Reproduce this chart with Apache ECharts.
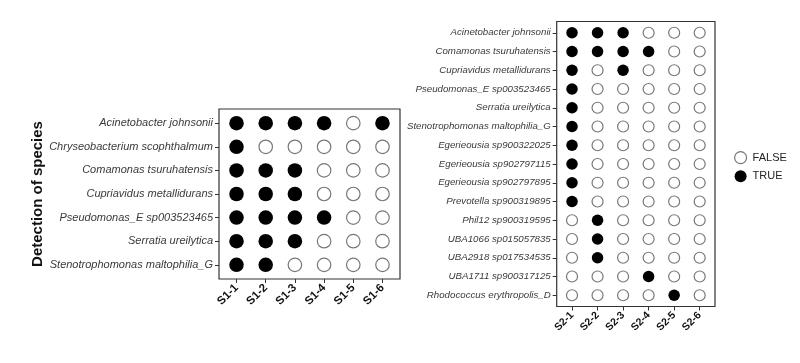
<!DOCTYPE html>
<html><head><meta charset="utf-8">
<script src="https://cdn.jsdelivr.net/npm/echarts@6/dist/echarts.min.js"></script>
<style>html,body{margin:0;padding:0;background:#fff}#c{width:800px;height:363px}</style>
</head><body><div id="c"></div>
<script>
// ---- data ----
const s1Samples = ['S1-1','S1-2','S1-3','S1-4','S1-5','S1-6'];
const s1Species = ['Acinetobacter johnsonii','Chryseobacterium scophthalmum','Comamonas tsuruhatensis',
  'Cupriavidus metallidurans','Pseudomonas_E sp003523465','Serratia ureilytica','Stenotrophomonas maltophilia_G'];
const s1Detected = [
  [1,1,1,1,0,1],
  [1,0,0,0,0,0],
  [1,1,1,0,0,0],
  [1,1,1,0,0,0],
  [1,1,1,1,0,0],
  [1,1,1,0,0,0],
  [1,1,0,0,0,0]
];
const s2Samples = ['S2-1','S2-2','S2-3','S2-4','S2-5','S2-6'];
const s2Species = ['Acinetobacter johnsonii','Comamonas tsuruhatensis','Cupriavidus metallidurans',
  'Pseudomonas_E sp003523465','Serratia ureilytica','Stenotrophomonas maltophilia_G',
  'Egerieousia sp900322025','Egerieousia sp902797115','Egerieousia sp902797895','Prevotella sp900319895',
  'Phil12 sp900319595','UBA1066 sp015057835','UBA2918 sp017534535','UBA1711 sp900317125','Rhodococcus erythropolis_D'];
const s2Detected = [
  [1,1,1,0,0,0],
  [1,1,1,1,0,0],
  [1,0,1,0,0,0],
  [1,0,0,0,0,0],
  [1,0,0,0,0,0],
  [1,0,0,0,0,0],
  [1,0,0,0,0,0],
  [1,0,0,0,0,0],
  [1,0,0,0,0,0],
  [1,0,0,0,0,0],
  [0,1,0,0,0,0],
  [0,1,0,0,0,0],
  [0,1,0,0,0,0],
  [0,0,0,1,0,0],
  [0,0,0,0,1,0]
];
const legendLabels = ['FALSE','TRUE'];

// ---- build ----
function points(samples, species, mat, val){
  const out = [];
  species.forEach((sp,i)=>samples.forEach((sa,j)=>{ if(mat[i][j]===val) out.push([sa,sp]); }));
  return out;
}
const panels = [
  {box:{left:219, top:109, width:181, height:170}, samples:s1Samples, species:s1Species, mat:s1Detected,
   yFont:11, xFont:11.5, sym:14.5, symE:13.5},
  {box:{left:556.7, top:21.5, width:158.3, height:285}, samples:s2Samples, species:s2Species, mat:s2Detected,
   yFont:9.7, xFont:10.5, sym:11.5, symE:11}
];
const grids=[], xAxes=[], yAxes=[], series=[];
panels.forEach((p,k)=>{
  const nx=p.samples.length, ny=p.species.length;
  const dx=p.box.width/(nx+0.2), dy=p.box.height/(ny+0.2);
  // frame grid
  grids.push({left:p.box.left, top:p.box.top, width:p.box.width, height:p.box.height,
    show:true, borderColor:'#333', borderWidth:1.2, backgroundColor:'transparent', containLabel:false});
  xAxes.push({gridIndex:2*k, type:'value', show:false, min:0, max:1});
  yAxes.push({gridIndex:2*k, type:'value', show:false, min:0, max:1});
  // data grid
  grids.push({left:p.box.left+0.1*dx, top:p.box.top+0.1*dy, width:nx*dx, height:ny*dy, containLabel:false});
  xAxes.push({gridIndex:2*k+1, type:'category', data:p.samples, boundaryGap:true, offset:0.1*dy,
    axisLine:{show:false}, axisTick:{show:true, alignWithLabel:true, length:4, lineStyle:{color:'#333'}},
    axisLabel:{rotate:45, fontFamily:'Liberation Sans', fontWeight:'bold', fontSize:p.xFont, color:'#111', margin:7, interval:0},
    splitLine:{show:false}});
  const ya = {gridIndex:2*k+1, type:'category', data:p.species, inverse:true, boundaryGap:true, offset:0.1*dx,
    axisLine:{show:false}, axisTick:{show:true, alignWithLabel:true, length:4, lineStyle:{color:'#333'}},
    axisLabel:{fontFamily:'Liberation Sans', fontStyle:'italic', fontSize:p.yFont, color:'#3a3a3a', margin:6, interval:0},
    splitLine:{show:false}};
  if(k===0){
    Object.assign(ya,{name:'Detection of species', nameLocation:'middle', nameRotate:90, nameGap:173,
      nameTextStyle:{fontFamily:'Liberation Sans', fontWeight:'bold', fontSize:15, color:'#111'}});
  }
  yAxes.push(ya);
  series.push({name:legendLabels[0], type:'scatter', xAxisIndex:2*k+1, yAxisIndex:2*k+1,
    data:points(p.samples,p.species,p.mat,0), symbol:'circle', symbolSize:p.symE,
    itemStyle:{color:'#fff', borderColor:'#777', borderWidth:1.2, opacity:1}, silent:true});
  series.push({name:legendLabels[1], type:'scatter', xAxisIndex:2*k+1, yAxisIndex:2*k+1,
    data:points(p.samples,p.species,p.mat,1), symbol:'circle', symbolSize:p.sym,
    itemStyle:{color:'#000', opacity:1}, silent:true});
});

const chart = echarts.init(document.getElementById('c'), null, {renderer:'canvas'});
chart.setOption({
  animation:false,
  backgroundColor:'#fff',
  grid:grids, xAxis:xAxes, yAxis:yAxes, series:series,
  legend:{data:[
      {name:legendLabels[0], icon:'circle', itemStyle:{color:'#fff', borderColor:'#777', borderWidth:1.2}},
      {name:legendLabels[1], icon:'circle', itemStyle:{color:'#000'}}],
    orient:'vertical', left:729, top:146, itemWidth:12, itemHeight:12, itemGap:6,
    selectedMode:false,
    textStyle:{fontFamily:'Liberation Sans', fontSize:11, color:'#222', padding:[0,0,0,1]}}
});
</script></body></html>
